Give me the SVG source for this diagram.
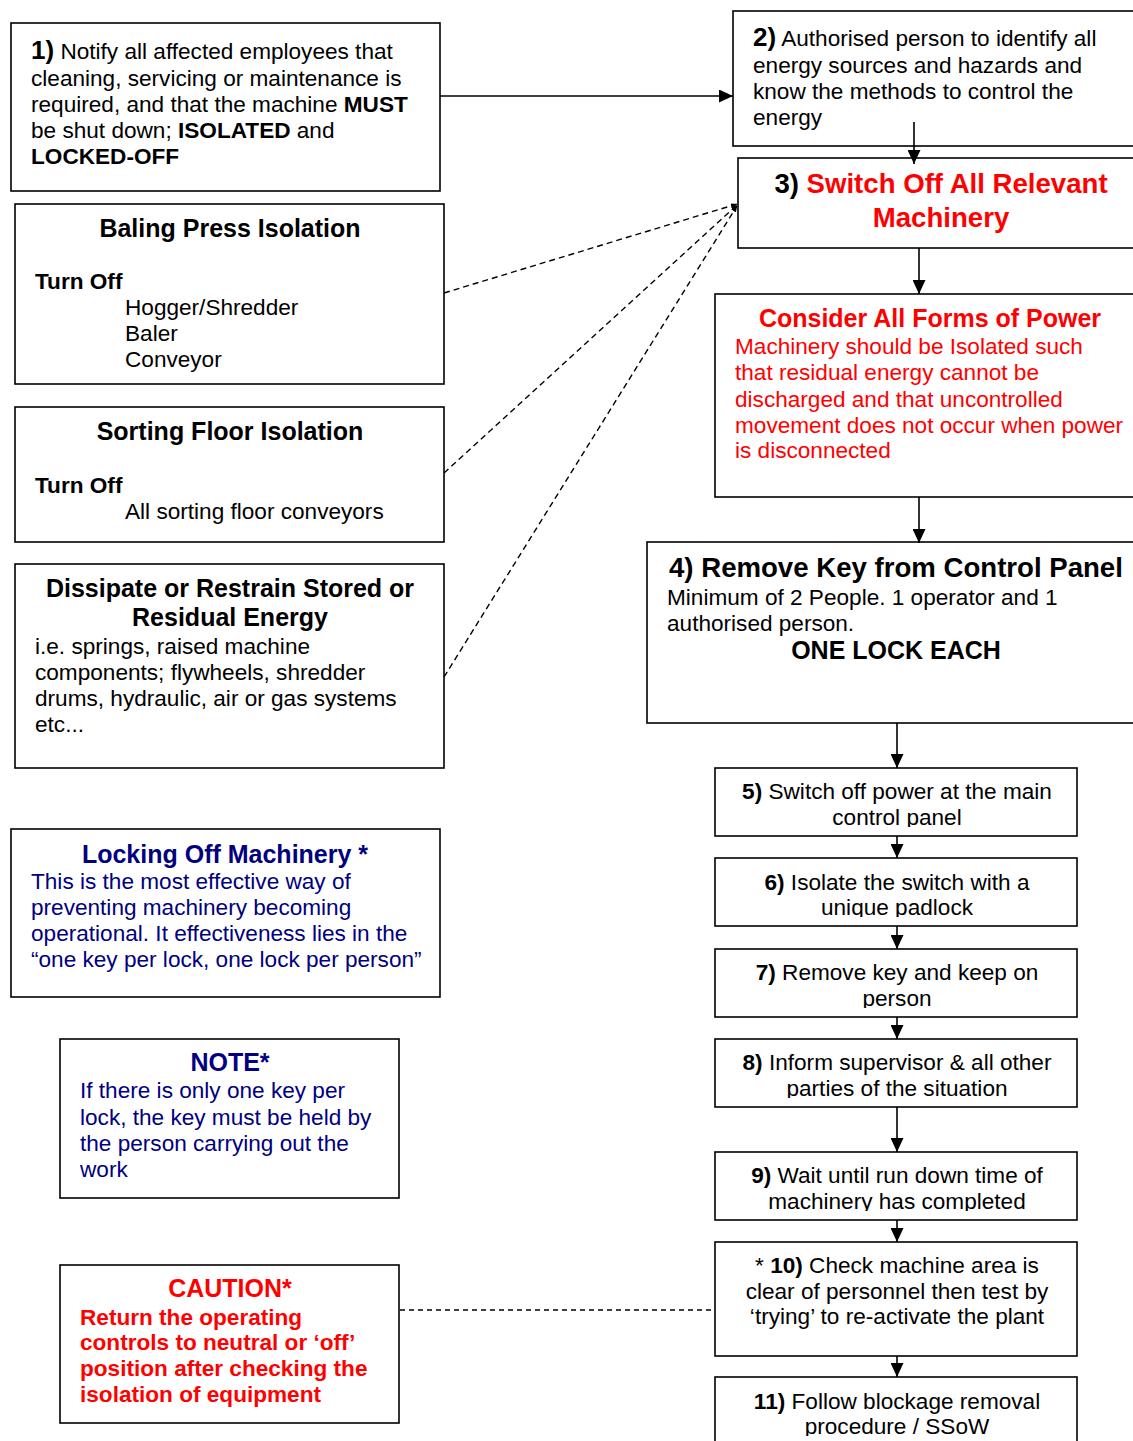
<svg xmlns="http://www.w3.org/2000/svg" width="1133" height="1441" viewBox="0 0 1133 1441">
<style>
.box{fill:#fff;stroke:#000;stroke-width:1.6}
text{font-family:"Liberation Sans",Arial,sans-serif;font-size:22.6px;fill:#000}
.b{font-weight:bold}
.c{text-anchor:middle}
.red{fill:#f00}
.navy{fill:#000080}
.h1{font-size:26px;font-weight:bold}
.h2{font-size:25px;font-weight:bold}
.h3{font-size:27.6px;font-weight:bold}
.conn{stroke:#000;stroke-width:1.6;fill:none}
.dash{stroke-dasharray:6 4;stroke-width:1.4}
</style>
<defs>
<marker id="ah" viewBox="0 0 14 13" refX="14" refY="6.5" markerWidth="14" markerHeight="13" orient="auto" markerUnits="userSpaceOnUse"><path d="M0,0 L14,6.5 L0,13 z" fill="#000"/></marker>
<marker id="ahs" viewBox="0 0 6 5" refX="6" refY="2.5" markerWidth="6" markerHeight="5" orient="auto" markerUnits="userSpaceOnUse"><path d="M0,0 L6,2.5 L0,5 z" fill="#000"/></marker>
<clipPath id="cp5"><rect x="715" y="768" width="362" height="59"/></clipPath>
<clipPath id="cp6"><rect x="715" y="858" width="362" height="59"/></clipPath>
<clipPath id="cp7"><rect x="715" y="949" width="362" height="59"/></clipPath>
<clipPath id="cp8"><rect x="715" y="1039" width="362" height="59"/></clipPath>
<clipPath id="cp9"><rect x="715" y="1152" width="362" height="59"/></clipPath>
<clipPath id="cp11"><rect x="715" y="1377" width="362" height="59"/></clipPath>
</defs>
<rect width="1133" height="1441" fill="#fff"/>

<g id="n1">
<rect class="box" x="11" y="23" width="429" height="168"/>
<text x="31" y="59"><tspan class="h1">1)</tspan> Notify all affected employees that</text>
<text x="31" y="86">cleaning, servicing or maintenance is</text>
<text x="31" y="112">required, and that the machine <tspan class="b">MUST</tspan></text>
<text x="31" y="138">be shut down; <tspan class="b">ISOLATED</tspan> and</text>
<text x="31" y="164" class="b">LOCKED-OFF</text>
</g>

<g id="n2">
<rect class="box" x="733" y="11" width="410" height="135"/>
<text x="753" y="46"><tspan class="h1">2)</tspan> Authorised person to identify all</text>
<text x="753" y="73">energy sources and hazards and</text>
<text x="753" y="99">know the methods to control the</text>
<text x="753" y="125">energy</text>
</g>

<g id="n3">
<rect class="box" x="738" y="158" width="405" height="90"/>
<text x="941" y="193" class="c h3">3) <tspan class="red">Switch Off All Relevant</tspan></text>
<text x="941" y="227" class="c h3 red">Machinery</text>
</g>

<g id="power">
<rect class="box" x="715" y="294" width="428" height="203"/>
<text x="930" y="327" class="c h2 red">Consider All Forms of Power</text>
<text x="735" y="354" class="red">Machinery should be Isolated such</text>
<text x="735" y="380" class="red">that residual energy cannot be</text>
<text x="735" y="407" class="red">discharged and that uncontrolled</text>
<text x="735" y="433" class="red">movement does not occur when power</text>
<text x="735" y="458" class="red">is disconnected</text>
</g>

<g id="n4">
<rect class="box" x="647" y="542" width="496" height="181"/>
<text x="669" y="577" class="h3">4) Remove Key from Control Panel</text>
<text x="667" y="605">Minimum of 2 People. 1 operator and 1</text>
<text x="667" y="631">authorised person.</text>
<text x="896" y="659" class="c h2">ONE LOCK EACH</text>
</g>

<g id="n5">
<rect class="box" x="715" y="768" width="362" height="68"/>
<g clip-path="url(#cp5)">
<text x="897" y="799" class="c"><tspan class="b">5)</tspan> Switch off power at the main</text>
<text x="897" y="825" class="c">control panel</text>
</g>
</g>

<g id="n6">
<rect class="box" x="715" y="858" width="362" height="68"/>
<g clip-path="url(#cp6)">
<text x="897" y="890" class="c"><tspan class="b">6)</tspan> Isolate the switch with a</text>
<text x="897" y="915" class="c">unique padlock</text>
</g>
</g>

<g id="n7">
<rect class="box" x="715" y="949" width="362" height="68"/>
<g clip-path="url(#cp7)">
<text x="897" y="980" class="c"><tspan class="b">7)</tspan> Remove key and keep on</text>
<text x="897" y="1006" class="c">person</text>
</g>
</g>

<g id="n8">
<rect class="box" x="715" y="1039" width="362" height="68"/>
<g clip-path="url(#cp8)">
<text x="897" y="1070" class="c"><tspan class="b">8)</tspan> Inform supervisor &amp; all other</text>
<text x="897" y="1096" class="c">parties of the situation</text>
</g>
</g>

<g id="n9">
<rect class="box" x="715" y="1152" width="362" height="68"/>
<g clip-path="url(#cp9)">
<text x="897" y="1183" class="c"><tspan class="b">9)</tspan> Wait until run down time of</text>
<text x="897" y="1209" class="c">machinery has completed</text>
</g>
</g>

<g id="n10">
<rect class="box" x="715" y="1242" width="362" height="114"/>
<text x="897" y="1273" class="c">* <tspan class="b">10)</tspan> Check machine area is</text>
<text x="897" y="1299" class="c">clear of personnel then test by</text>
<text x="897" y="1324" class="c">‘trying’ to re-activate the plant</text>
</g>

<g id="n11">
<rect class="box" x="715" y="1377" width="362" height="80"/>
<g clip-path="url(#cp11)">
<text x="897" y="1409" class="c"><tspan class="b">11)</tspan> Follow blockage removal</text>
<text x="897" y="1434" class="c">procedure / SSoW</text>
</g>
</g>

<g id="baling">
<rect class="box" x="15" y="204" width="429" height="180"/>
<text x="230" y="237" class="c h2">Baling Press Isolation</text>
<text x="35" y="289" class="b">Turn Off</text>
<text x="125" y="315">Hogger/Shredder</text>
<text x="125" y="341">Baler</text>
<text x="125" y="367">Conveyor</text>
</g>

<g id="sorting">
<rect class="box" x="15" y="407" width="429" height="135"/>
<text x="230" y="440" class="c h2">Sorting Floor Isolation</text>
<text x="35" y="493" class="b">Turn Off</text>
<text x="125" y="519">All sorting floor conveyors</text>
</g>

<g id="dissipate">
<rect class="box" x="15" y="564" width="429" height="204"/>
<text x="230" y="597" class="c h2">Dissipate or Restrain Stored or</text>
<text x="230" y="626" class="c h2">Residual Energy</text>
<text x="35" y="654">i.e. springs, raised machine</text>
<text x="35" y="680">components; flywheels, shredder</text>
<text x="35" y="706">drums, hydraulic, air or gas systems</text>
<text x="35" y="732">etc...</text>
</g>

<g id="locking">
<rect class="box" x="11" y="829" width="429" height="168"/>
<text x="225" y="863" class="c h2 navy">Locking Off Machinery *</text>
<text x="31" y="889" class="navy">This is the most effective way of</text>
<text x="31" y="915" class="navy">preventing machinery becoming</text>
<text x="31" y="941" class="navy">operational. It effectiveness lies in the</text>
<text x="31" y="967" class="navy">“one key per lock, one lock per person”</text>
</g>

<g id="note">
<rect class="box" x="60" y="1039" width="339" height="159"/>
<text x="230" y="1071" class="c h2 navy">NOTE*</text>
<text x="80" y="1098" class="navy">If there is only one key per</text>
<text x="80" y="1125" class="navy">lock, the key must be held by</text>
<text x="80" y="1151" class="navy">the person carrying out the</text>
<text x="80" y="1177" class="navy">work</text>
</g>

<g id="caution">
<rect class="box" x="60" y="1265" width="339" height="158"/>
<text x="230" y="1297" class="c h2 red">CAUTION*</text>
<text x="80" y="1325" class="b red">Return the operating</text>
<text x="80" y="1350" class="b red">controls to neutral or ‘off’</text>
<text x="80" y="1376" class="b red">position after checking the</text>
<text x="80" y="1402" class="b red">isolation of equipment</text>
</g>

<g id="connectors">
<line class="conn" x1="440" y1="96" x2="733" y2="96" marker-end="url(#ah)"/>
<line class="conn" x1="914" y1="122" x2="914" y2="164" marker-end="url(#ah)"/>
<line class="conn" x1="919" y1="248" x2="919" y2="294" marker-end="url(#ah)"/>
<line class="conn" x1="919" y1="497" x2="919" y2="543" marker-end="url(#ah)"/>
<line class="conn" x1="897" y1="723" x2="897" y2="768" marker-end="url(#ah)"/>
<line class="conn" x1="897" y1="836" x2="897" y2="858" marker-end="url(#ah)"/>
<line class="conn" x1="897" y1="926" x2="897" y2="949" marker-end="url(#ah)"/>
<line class="conn" x1="897" y1="1017" x2="897" y2="1039" marker-end="url(#ah)"/>
<line class="conn" x1="897" y1="1107" x2="897" y2="1152" marker-end="url(#ah)"/>
<line class="conn" x1="897" y1="1220" x2="897" y2="1242" marker-end="url(#ah)"/>
<line class="conn" x1="897" y1="1356" x2="897" y2="1377" marker-end="url(#ah)"/>
<line class="conn dash" x1="444" y1="293" x2="737" y2="204" marker-end="url(#ahs)"/>
<line class="conn dash" x1="444" y1="473" x2="737" y2="205" marker-end="url(#ahs)"/>
<line class="conn dash" x1="444" y1="677" x2="737" y2="206" marker-end="url(#ahs)"/>
<line class="conn" style="stroke-dasharray:5 4;stroke-width:1.4" x1="400" y1="1310" x2="715" y2="1310"/>
</g>
</svg>
